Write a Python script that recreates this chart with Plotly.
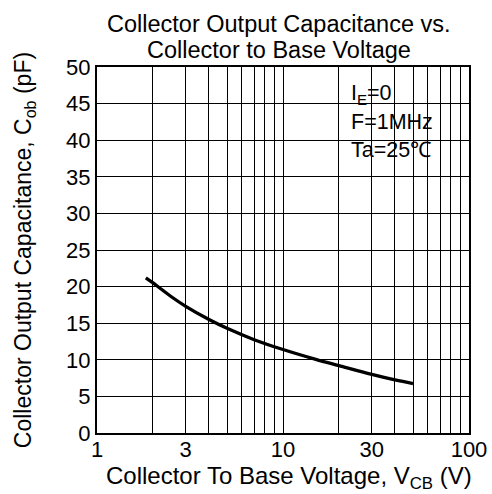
import plotly.graph_objects as go

# Data
vcb = [1.83, 2, 2.5, 3, 4, 5, 7, 10, 15, 20, 30, 40, 50]
cob = [21.2, 20.5, 18.65, 17.3, 15.5, 14.3, 12.75, 11.4, 10.06, 9.2, 8.0, 7.25, 6.75]

x_grid = [1, 2, 3, 4, 5, 6, 7, 8, 9, 10, 20, 30, 40, 50, 60, 70, 80, 90, 100]
x_labels = ["1", "", "3", "", "", "", "", "", "", "10", "", "30", "", "", "", "", "", "", "100"]
y_ticks = [0, 5, 10, 15, 20, 25, 30, 35, 40, 45, 50]
title_lines = ["Collector Output Capacitance vs.", "Collector to Base Voltage"]
x_title = "Collector To Base Voltage, V<sub>CB</sub> (V)"
y_title = "Collector Output Capacitance, C<sub>ob</sub> (pF)"
cond_lines = ["I<sub>E</sub>=0", "F=1MHz", "Ta=25\u2103"]

FONT = "Arial, Liberation Sans, sans-serif"

fig = go.Figure()
fig.add_trace(go.Scatter(x=vcb, y=cob, mode="lines",
                         line=dict(color="black", width=3.3, shape="spline", smoothing=1.0),
                         showlegend=False, hoverinfo="skip"))

fig.update_layout(
    width=492, height=494,
    margin=dict(l=97, r=23, t=67, b=61, autoexpand=False),
    paper_bgcolor="white", plot_bgcolor="white",
    font=dict(family=FONT, color="black", size=22),
)

fig.update_xaxes(type="log", range=[0, 2], tickvals=x_grid, ticktext=x_labels,
                 showgrid=True, gridcolor="black", gridwidth=1,
                 showline=True, linecolor="black", linewidth=2, mirror=True,
                 ticks="", tickfont=dict(size=22, family=FONT), ticklabelstandoff=-4,
                 zeroline=False)
fig.update_yaxes(range=[0, 50], tickvals=y_ticks,
                 showgrid=True, gridcolor="black", gridwidth=1,
                 showline=True, linecolor="black", linewidth=2, mirror=True,
                 ticks="", tickfont=dict(size=22, family=FONT),
                 title=dict(text=y_title, font=dict(size=23, family=FONT), standoff=28),
                 zeroline=False)

# x-axis title
fig.add_annotation(text=x_title, xref="paper", yref="paper",
                   x=0.517, y=-0.121, xanchor="center", yanchor="middle",
                   showarrow=False, font=dict(size=24, family=FONT, color="black"))

# title as two centred lines
for i, t in enumerate(title_lines):
    fig.add_annotation(text=t, xref="paper", yref="paper",
                       x=0.49, y=1.118 - i * 0.071, xanchor="center", yanchor="middle",
                       showarrow=False, font=dict(size=23.5, family=FONT, color="black"))

# white box behind the conditions text
fig.add_shape(type="rect", xref="paper", yref="paper",
              x0=0.672, x1=0.92, y0=0.725, y1=0.971,
              fillcolor="white", line=dict(width=0), layer="between")

for i, t in enumerate(cond_lines):
    fig.add_annotation(text=t, xref="paper", yref="paper",
                       x=0.678, y=0.924 - i * 0.075, xanchor="left", yanchor="middle",
                       showarrow=False, font=dict(size=21.5, family=FONT, color="black"))

fig.write_html("out.html", config={"displayModeBar": False},
               post_script="document.body.style.margin='0';")
